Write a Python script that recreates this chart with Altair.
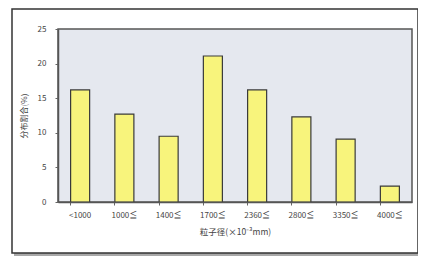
import altair as alt
import pandas as pd

categories = ["<1000", "1000≦", "1400≦", "1700≦", "2360≦", "2800≦", "3350≦", "4000≦"]
values = [16.2, 12.7, 9.5, 21.1, 16.2, 12.3, 9.1, 2.3]
y_ticks = [0, 5, 10, 15, 20, 25]

df = pd.DataFrame({"cat": categories, "val": values})

FONT = "Noto Sans CJK JP"

bars = alt.Chart(df).mark_bar(
    fill="#f8f47c", stroke="#3a3a3a", strokeWidth=1.2
).encode(
    x=alt.X("cat:N", sort=categories,
            scale=alt.Scale(paddingInner=0.57, paddingOuter=0.285),
            axis=alt.Axis(title="粒子径(×10⁻³mm)", labelAngle=0, labelFontSize=8,
                          labelColor="#444", titleFontSize=8.5, titleColor="#444",
                          titleFontWeight="normal", labelPadding=6, titlePadding=8,
                          tickSize=3, tickColor="#666", bandPosition=0,
                          domainColor="#555", domainWidth=1.5, zindex=1,
                          labelFont=FONT, titleFont=FONT)),
    y=alt.Y("val:Q", scale=alt.Scale(domain=[0, 25]),
            axis=alt.Axis(title="分布割合(%)", values=y_ticks, labelFontSize=8,
                          labelColor="#444", titleFontSize=8, titleColor="#444",
                          titleFontWeight="normal", grid=False, tickSize=3,
                          tickColor="#666", labelPadding=9, titlePadding=9,
                          domainColor="#555", domainWidth=1.5, zindex=1,
                          labelFont=FONT, titleFont=FONT)),
)

one = alt.Data(values=[{"k": 1}])
shadow = alt.Chart(one).mark_rect(fill="#a8a8a8").encode(
    x=alt.value(-44), x2=alt.value(364), y=alt.value(-17), y2=alt.value(227))
page = alt.Chart(one).mark_rect(fill="white", stroke="#333", strokeWidth=1.5).encode(
    x=alt.value(-46), x2=alt.value(360), y=alt.value(-20), y2=alt.value(224))
plotbg = alt.Chart(one).mark_rect(fill="#e5e8ef", stroke="#555", strokeWidth=1.5).encode(
    x=alt.value(0), x2=alt.value(354), y=alt.value(0), y2=alt.value(173))

chart = alt.layer(shadow, page, plotbg, bars).properties(
    width=354, height=173,
    autosize=alt.AutoSizeParams(type="none"),
    padding={"left": 50, "top": 21, "right": 6, "bottom": 54},
    background="white",
).configure_view(
    stroke=None
)

chart.save("out.html", embed_options={"renderer": "svg", "actions": False})
